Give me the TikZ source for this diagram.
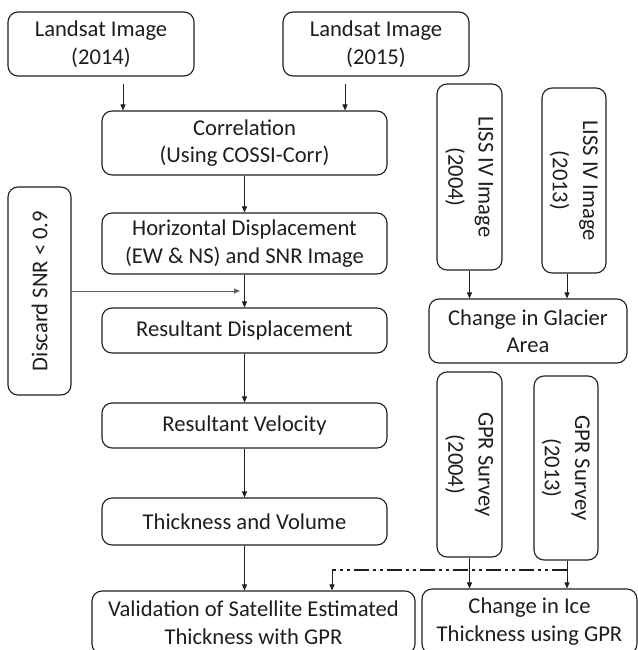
\documentclass[tikz,border=0pt]{standalone}
\usepackage{fontspec}
\setmainfont{Carlito}
\usepackage{graphicx}
\usetikzlibrary{arrows.meta}
\definecolor{ink}{HTML}{1E1E1E}
\newcommand{\twol}[2]{\renewcommand{\arraystretch}{1.1}\begin{tabular}{@{}c@{}}#1\\#2\end{tabular}}
\begin{document}
\begin{tikzpicture}[x=1pt,y=-1pt,
  box/.style={draw=ink, line width=1.1pt, rounded corners=10pt, align=center,
    inner sep=0pt, text=ink, font=\fontsize{22.6}{27.5}\selectfont},
  arr/.style={draw=ink, line width=0.8pt, -{Triangle[length=6pt,width=5pt]}},
  dashdot/.style={draw=ink, line width=2pt,
    dash pattern=on 15pt off 4pt on 3pt off 4pt on 3pt off 4pt}]
\useasboundingbox (0,0) rectangle (637,650);
% left/main column
\node[box, minimum width=186pt, minimum height=64pt] (L14) at (101,44) {Landsat Image\\(2014)};
\node[box, minimum width=186pt, minimum height=64pt] (L15) at (376,44) {Landsat Image\\(2015)};
\node[box, minimum width=285pt, minimum height=64pt] (Corr) at (244.5,143) {Correlation\\(Using COSSI-Corr)};
\node[box, minimum width=285pt, minimum height=61pt] (HD) at (244.5,243.5) {Horizontal Displacement\\(EW \& NS) and SNR Image};
\node[box, minimum width=285pt, minimum height=45pt] (RD) at (244.5,330.5) {Resultant Displacement};
\node[box, minimum width=285pt, minimum height=45pt] (RV) at (244.5,425.5) {Resultant Velocity};
\node[box, minimum width=285pt, minimum height=47pt] (TV) at (244.5,521.5) {Thickness and Volume};
\node[box, minimum width=323pt, minimum height=63pt] (Val) at (253.5,622.5) {Validation of Satellite Estimated\\Thickness with GPR};
\node[box, minimum width=215pt, minimum height=65pt] (CIT) at (529.5,621.5) {Change in Ice\\Thickness using GPR};
\node[box, minimum width=63pt, minimum height=208pt] (Disc) at (39.5,291) {\rotatebox{90}{Discard SNR < 0.9}};
% right column
\node[box, minimum width=65pt, minimum height=186pt] (L04) at (469.5,177) {\rotatebox{-90}{\twol{LISS IV Image}{(2004)}}};
\node[box, minimum width=64pt, minimum height=185pt] (L13) at (574,180.5) {\rotatebox{-90}{\twol{LISS IV Image}{(2013)}}};
\node[box, minimum width=198pt, minimum height=64pt] (CGA) at (528,331) {Change in Glacier\\Area};
\node[box, minimum width=65pt, minimum height=185pt] (G04) at (469.5,464.5) {\rotatebox{-90}{\twol{GPR Survey}{(2004)}}};
\node[box, minimum width=64pt, minimum height=184pt] (G13) at (566,468) {\rotatebox{-90}{\twol{GPR Survey}{(2013)}}};
% helper coordinates
\coordinate (xa) at (123,0);
\coordinate (xb) at (345,0);
\coordinate (xc) at (567,0);
\coordinate (xd) at (332,0);
\coordinate (dj) at (240,291);
\coordinate (dd) at (567,570);
\coordinate (dc) at (332,570);
% connectors
\draw[arr, shorten <=7pt] (L14.south -| xa) -- (Corr.north -| xa);
\draw[arr, shorten <=7pt] (L15.south -| xb) -- (Corr.north -| xb);
\draw[arr] (Corr.south) -- (HD.north);
\draw[arr] (HD.south) -- (RD.north);
\draw[arr] (RD.south) -- (RV.north);
\draw[arr] (RV.south) -- (TV.north);
\draw[arr] (TV.south) -- (TV.south |- Val.north);
\draw[arr, draw=ink!70] (Disc.east |- dj) -- (dj);
\draw[arr] (L04.south) -- (L04.south |- CGA.north);
\draw[arr] (L13.south -| xc) -- (CGA.north -| xc);
\draw[arr] (G04.south) -- (G04.south |- CIT.north);
\draw[arr] (G13.south -| xc) -- (CIT.north -| xc);
\draw[dashdot] (dd) -- (dc);
\draw[arr] (dc) -- (Val.north -| xd);
\end{tikzpicture}
\end{document}
